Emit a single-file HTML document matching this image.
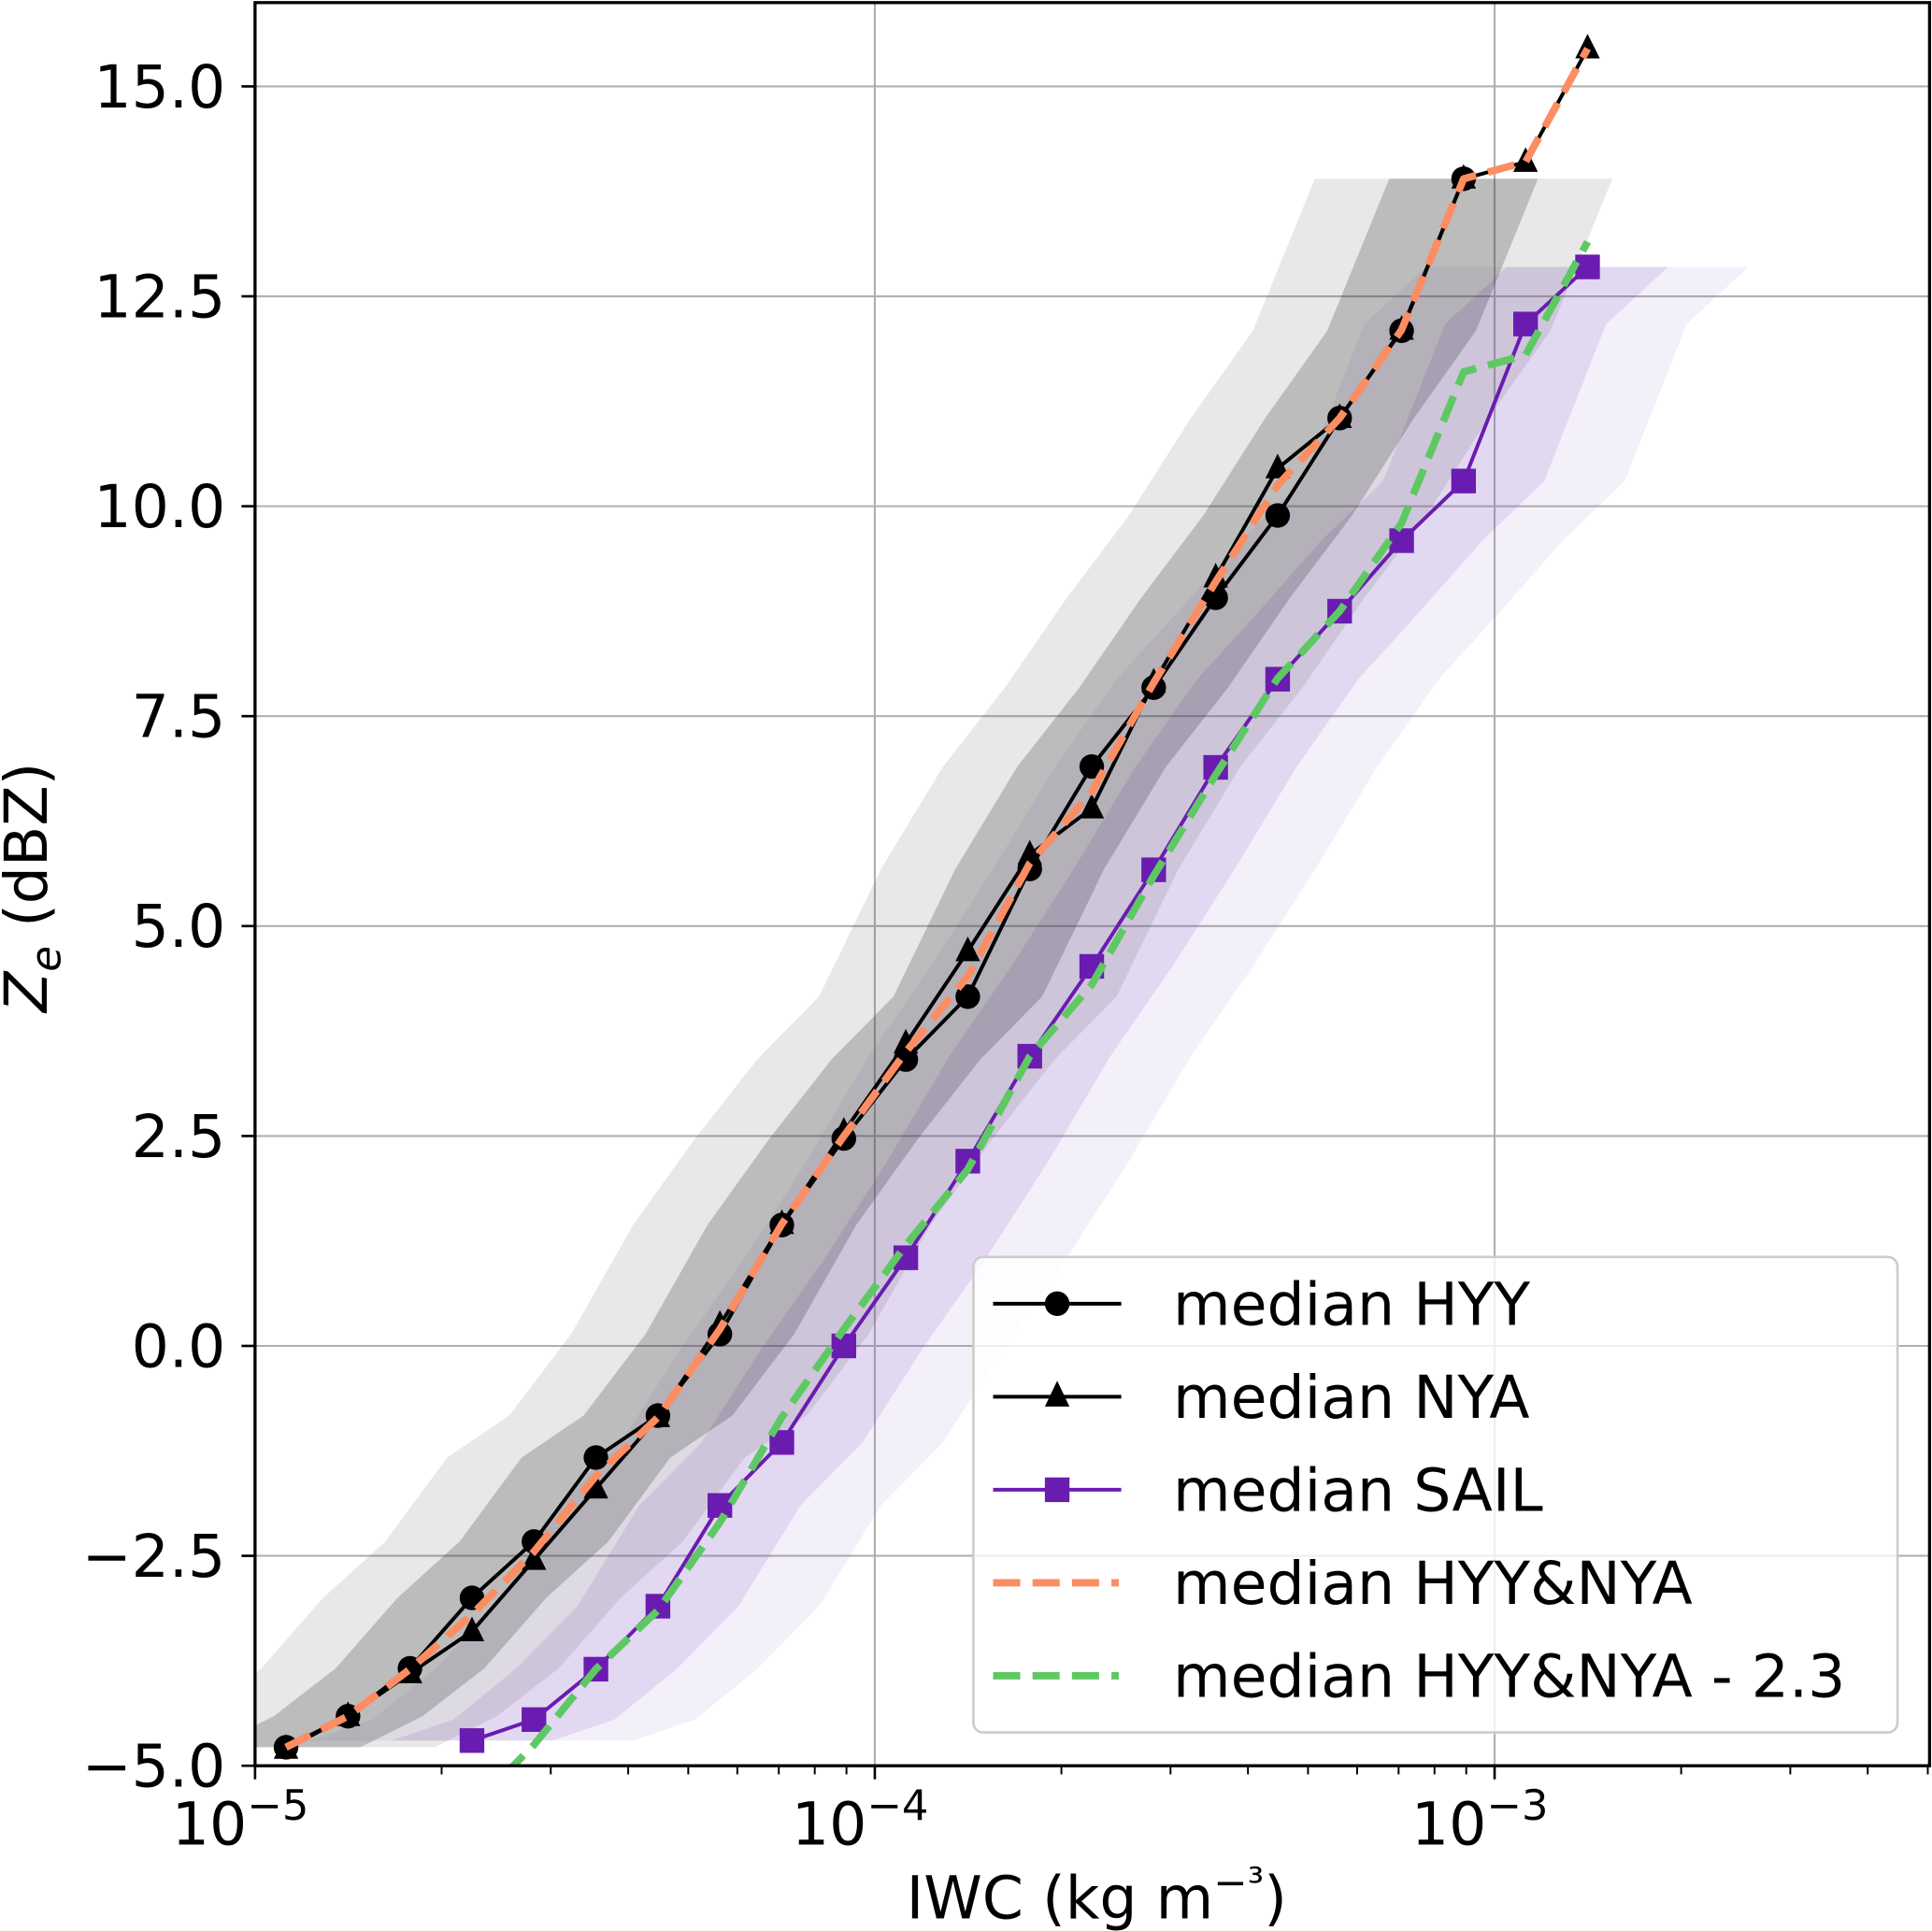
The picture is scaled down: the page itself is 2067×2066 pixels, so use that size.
<!DOCTYPE html>
<html><head><meta charset="utf-8">
<style>
html,body{margin:0;padding:0;background:#fff;}
svg{display:block;font-family:"DejaVu Sans","Liberation Sans",sans-serif;}
</style></head>
<body>
<svg id="chart" width="2067" height="2066" viewBox="0 0 1568 1567" xmlns="http://www.w3.org/2000/svg">
<defs><clipPath id="plotclip"><rect x="207" y="2" width="1359" height="1431"/></clipPath></defs>
<g id="grid"></g>
<g id="clouds" clip-path="url(#plotclip)"></g>
<g id="series" clip-path="url(#plotclip)"></g>
<g id="axes"></g>
<g id="legend"></g>
</svg>
<script>
const hyyBins = [0,1,2,3,4,5,6,7,8,9,10,11,12,13,14,15,16,17,18,19];
const hyyZe = [-4.78,-4.41,-3.84,-3.0,-2.33,-1.33,-0.83,0.14,1.44,2.47,3.41,4.16,5.68,6.90,7.84,8.91,9.89,11.05,12.09,13.9];
const nyaBins = [0,1,2,3,4,5,6,7,8,9,10,11,12,13,14,15,16,17,18,19,20,21];
const nyaZe = [-4.8,-4.41,-3.9,-3.4,-2.55,-1.7,-0.85,0.25,1.45,2.55,3.6,4.7,5.85,6.4,7.9,9.15,10.45,11.05,12.1,13.9,14.1,15.45];
const comboZe = [-4.78,-4.41,-3.85,-3.2,-2.45,-1.55,-0.85,0.2,1.45,2.5,3.5,4.4,5.75,6.6,7.9,9.1,10.25,11.05,12.1,13.9,14.1,15.45];
const offset = 2.3;
const sailBins = [3,4,5,6,7,8,9,10,11,12,13,14,15,16,17,18,19,20,21];
const sailZe = [-4.7,-4.45,-3.85,-3.1,-1.9,-1.15,0.0,1.05,2.2,3.45,4.52,5.67,6.89,7.94,8.75,9.59,10.3,12.17,12.85];
const yTicks = [-5.0,-2.5,0.0,2.5,5.0,7.5,10.0,12.5,15.0];
const yTickLabels = ["\u22125.0","\u22122.5","0.0","2.5","5.0","7.5","10.0","12.5","15.0"];
const xDecades = [-5,-4,-3];

const NS="http://www.w3.org/2000/svg";
const L=207,R=1566,T=2,B=1433;
function binLog(k){return -4.95+0.1*k;}
function xs(lg){return L+(lg+5)*503;}
function ys(v){return 1433-(v+5)*68.15;}
function mk(tag,attrs,parent){const e=document.createElementNS(NS,tag);for(const k in attrs)e.setAttribute(k,attrs[k]);parent.appendChild(e);return e;}
const grid=document.getElementById('grid'),axes=document.getElementById('axes'),clouds=document.getElementById('clouds'),series=document.getElementById('series'),legend=document.getElementById('legend');

yTicks.forEach(v=>{const l=mk('line',{x1:L,x2:R,y1:ys(v),y2:ys(v),stroke:'#b0b0b0','stroke-width':1.6},grid);

});
xDecades.forEach(d=>{const l=mk('line',{x1:xs(d),x2:xs(d),y1:T,y2:B,stroke:'#b0b0b0','stroke-width':1.6},grid);

});

function band(bins,vals,spread,color,op,name){
  let pts=[];
  bins.forEach((k,i)=>pts.push([xs(binLog(k)-spread),ys(vals[i])]));
  for(let i=bins.length-1;i>=0;i--)pts.push([xs(binLog(bins[i])+spread),ys(vals[i])]);
  const p=mk('polygon',{points:pts.map(q=>q.join(',')).join(' '),fill:color,'fill-opacity':op},clouds);
  
  
}
band(sailBins,sailZe,0.26,'#8a5ac8',0.09,'sail-cloud-outer');
band(sailBins,sailZe,0.13,'#7a44c0',0.14,'sail-cloud-inner');
band(hyyBins,hyyZe,0.24,'#444',0.12,'hyy-nya-cloud-outer');
band(hyyBins,hyyZe,0.12,'#222',0.22,'hyy-nya-cloud-inner');

function line(bins,vals,stroke,w,dash,name){
  const d=bins.map((k,i)=>(i?'L':'M')+xs(binLog(k)).toFixed(1)+','+ys(vals[i]).toFixed(1)).join(' ');
  const a={d:d,fill:'none',stroke:stroke,'stroke-width':w,'stroke-linejoin':'round'};
  if(dash)a['stroke-dasharray']=dash;
  const p=mk('path',a,series);
  
  
}
line(hyyBins,hyyZe,'#000',3,null,'median-hyy-line');
hyyBins.forEach((k,i)=>{const c=mk('circle',{cx:xs(binLog(k)),cy:ys(hyyZe[i]),r:10,fill:'#000'},series);

});
line(nyaBins,nyaZe,'#000',3,null,'median-nya-line');
nyaBins.forEach((k,i)=>{const x=xs(binLog(k)),y=ys(nyaZe[i]);const t=mk('polygon',{points:`${x},${y-12} ${x-10},${y+8} ${x+10},${y+8}`,fill:'#000'},series);

});
line(sailBins,sailZe,'#6a1cb0',3,null,'median-sail-line');
sailBins.forEach((k,i)=>{const x=xs(binLog(k)),y=ys(sailZe[i]);const s=mk('rect',{x:x-10,y:y-10,width:20,height:20,fill:'#6a1cb0'},series);

});
line(nyaBins,comboZe,'#fc8d62',6,'22 10','median-hyy-nya-line');
line(nyaBins,comboZe.map(v=>v-offset),'#5ec962',6,'22 10','median-hyy-nya-minus-offset-line');

const fr=mk('rect',{x:L,y:T,width:R-L,height:B-T,fill:'none',stroke:'#000','stroke-width':2.5},axes);


yTicks.forEach((v,i)=>{mk('line',{x1:L-11,x2:L,y1:ys(v),y2:ys(v),stroke:'#000','stroke-width':2},axes);
const t=mk('text',{x:L-24,y:ys(v)+17,'text-anchor':'end','font-size':48,fill:'#000'},axes);t.textContent=yTickLabels[i];

});
for(let d=-5;d<=-3;d++){for(let m=2;m<=9;m++){const x=xs(d+Math.log10(m));if(x<=R)mk('line',{x1:x,x2:x,y1:B,y2:B+7,stroke:'#000','stroke-width':1.5},axes);}}
xDecades.forEach(d=>{mk('line',{x1:xs(d),x2:xs(d),y1:B,y2:B+11,stroke:'#000','stroke-width':2},axes);
const t=mk('text',{x:xs(d)-12,y:B+64,'text-anchor':'middle','font-size':48,fill:'#000'},axes);
t.textContent='10';const s=mk('tspan',{dy:-20,'font-size':34},t);s.textContent='\u2212'+(-d);

});
const xl=mk('text',{x:890,y:1557,'text-anchor':'middle','font-size':48,fill:'#000'},axes);
xl.textContent='IWC (kg m';const xs2=mk('tspan',{dy:-18,'font-size':33},xl);xs2.textContent='\u2212\u00b3';const xs3=mk('tspan',{dy:18},xl);xs3.textContent=')';


const yl=mk('text',{x:0,y:0,'text-anchor':'middle','font-size':48,fill:'#000',transform:'translate(38,720) rotate(-90)'},axes);
const z=mk('tspan',{'font-style':'italic'},yl);z.textContent='Z';const zs=mk('tspan',{dy:11,'font-size':34,'font-style':'italic'},yl);zs.textContent='e';const zr=mk('tspan',{dy:-11},yl);zr.textContent=' (dBZ)';



const lb=mk('rect',{x:790,y:1020,width:750,height:386,rx:8,fill:'#fff','fill-opacity':0.8,stroke:'#ccc','stroke-width':2},legend);


const entries=[['median HYY','#000','circle'],['median NYA','#000','tri'],['median SAIL','#6a1cb0','sq'],['median HYY&NYA','#fc8d62','dash'],['median HYY&NYA - 2.3','#5ec962','dash']];
entries.forEach((e,i)=>{const y=1058+i*75.5;
const g=mk('g',{},legend);


if(e[2]==='dash'){mk('line',{x1:806,x2:908,y1:y,y2:y,stroke:e[1],'stroke-width':6,'stroke-dasharray':'22 10'},g);}
else{mk('line',{x1:806,x2:910,y1:y,y2:y,stroke:e[1],'stroke-width':3},g);
 if(e[2]==='circle')mk('circle',{cx:858,cy:y,r:10,fill:e[1]},g);
 if(e[2]==='tri')mk('polygon',{points:`858,${y-13} 848,${y+8} 868,${y+8}`,fill:e[1]},g);
 if(e[2]==='sq')mk('rect',{x:848,y:y-10,width:20,height:20,fill:e[1]},g);}
const t=mk('text',{x:952,y:y+17,'font-size':48,fill:'#000'},g);t.textContent=e[0];});
</script>
</body></html>
